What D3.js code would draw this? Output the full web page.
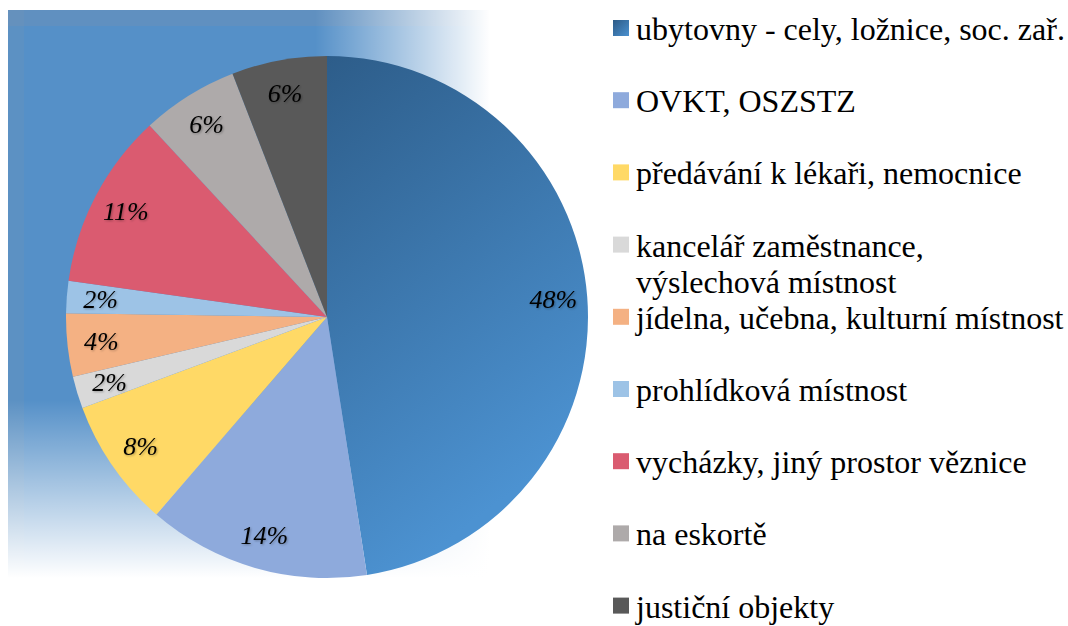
<!DOCTYPE html>
<html>
<head>
<meta charset="utf-8">
<script src="https://cdn.jsdelivr.net/npm/d3@7"></script>
</head>
<body style="margin:0">
<svg width="1068" height="626" style="display:block"></svg>
<script>
const categories = [
  'ubytovny - cely, ložnice, soc. zař.',
  'OVKT, OSZSTZ',
  'předávání k lékaři, nemocnice',
  'kancelář zaměstnance,\nvýslechová místnost',
  'jídelna, učebna, kulturní místnost',
  'prohlídková místnost',
  'vycházky, jiný prostor věznice',
  'na eskortě',
  'justiční objekty'
];
const values = [47.6, 13.8, 8.0, 2.0, 3.9, 2.0, 10.9, 6.0, 5.9];
const labels = ['48%', '14%', '8%', '2%', '4%', '2%', '11%', '6%', '6%'];
const colors = ['url(#gradMain)', '#8eaadc', '#ffd966', '#d9d9d9', '#f4b183', '#9dc3e6', '#da5b70', '#aeaaaa', '#595959'];

const svg = d3.select('svg');
const cx = 327;
const cy = 317;
const r = 261;

const defs = svg.append('defs');

// main slice gradient (coordinates relative to pie centre)
const g1 = defs.append('linearGradient')
  .attr('id', 'gradMain')
  .attr('gradientUnits', 'userSpaceOnUse')
  .attr('x1', -r * 0.1).attr('y1', -r)
  .attr('x2', r).attr('y2', r * 0.45);
g1.append('stop').attr('offset', '0%').attr('stop-color', '#2c5b87');
g1.append('stop').attr('offset', '100%').attr('stop-color', '#4c92d1');

const g2 = defs.append('linearGradient')
  .attr('id', 'gradSwatch')
  .attr('x1', 0).attr('y1', 0).attr('x2', 1).attr('y2', 1);
g2.append('stop').attr('offset', '0%').attr('stop-color', '#2c5a86');
g2.append('stop').attr('offset', '100%').attr('stop-color', '#4b91d0');

// white fades laid over the blue background block
const fx = defs.append('linearGradient').attr('id', 'fadeX')
  .attr('gradientUnits', 'userSpaceOnUse')
  .attr('x1', 315).attr('y1', 0).attr('x2', 490).attr('y2', 0);
fx.append('stop').attr('offset', '0%').attr('stop-color', '#fff').attr('stop-opacity', 0);
fx.append('stop').attr('offset', '100%').attr('stop-color', '#fff').attr('stop-opacity', 1);
const fy = defs.append('linearGradient').attr('id', 'fadeY')
  .attr('gradientUnits', 'userSpaceOnUse')
  .attr('x1', 0).attr('y1', 400).attr('x2', 0).attr('y2', 578);
fy.append('stop').attr('offset', '0%').attr('stop-color', '#fff').attr('stop-opacity', 0);
fy.append('stop').attr('offset', '100%').attr('stop-color', '#fff').attr('stop-opacity', 1);

const shadow = defs.append('filter').attr('id', 'tshadow')
  .attr('x', '-20%').attr('y', '-20%').attr('width', '140%').attr('height', '140%');
shadow.append('feDropShadow').attr('dx', 1).attr('dy', 1).attr('stdDeviation', 1)
  .attr('flood-color', '#000').attr('flood-opacity', 0.3);

// blue background block
const bg = svg.append('g');
bg.append('rect')
  .attr('x', 8).attr('y', 10)
  .attr('width', 500).attr('height', 590)
  .attr('fill', '#5590c8');
bg.append('rect')
  .attr('x', 8).attr('y', 10).attr('width', 500).attr('height', 16)
  .attr('fill', '#7593b2').attr('opacity', 0.35);
bg.append('rect')
  .attr('x', 8).attr('y', 10).attr('width', 16).attr('height', 590)
  .attr('fill', '#7593b2').attr('opacity', 0.25);
bg.append('rect')
  .attr('x', 8).attr('y', 10).attr('width', 500).attr('height', 590)
  .attr('fill', 'url(#fadeX)');
bg.append('rect')
  .attr('x', 8).attr('y', 10).attr('width', 500).attr('height', 590)
  .attr('fill', 'url(#fadeY)');

const pie = d3.pie().sort(null).value(d => d);
const arcs = pie(values);
const arc = d3.arc().innerRadius(0).outerRadius(r);
const labelArc = d3.arc().innerRadius(r * 0.87).outerRadius(r * 0.87);

const chart = svg.append('g').attr('transform', `translate(${cx},${cy})`);

chart.selectAll('path')
  .data(arcs)
  .enter()
  .append('path')
  .attr('d', arc)
  .attr('fill', (d, i) => colors[i]);

chart.selectAll('text')
  .data(arcs)
  .enter()
  .append('text')
  .attr('transform', d => `translate(${labelArc.centroid(d)})`)
  .attr('text-anchor', 'middle')
  .attr('dy', '0.33em')
  .attr('style', 'font-family: "Liberation Serif", "Times New Roman", monospace; font-style: italic; font-size: 26px')
  .attr('filter', 'url(#tshadow)')
  .text((d, i) => labels[i]);

// legend
const legend = svg.append('g');
const rowY = d3.scaleLinear().domain([0, 1]).range([40, 112.2]);

const item = legend.selectAll('g')
  .data(categories)
  .enter()
  .append('g')
  .attr('transform', (d, i) => `translate(613,${rowY(i)})`);

item.append('rect')
  .attr('x', 0).attr('y', -20)
  .attr('width', 16).attr('height', 16)
  .attr('fill', (d, i) => (i === 0 ? 'url(#gradSwatch)' : colors[i]));

item.append('text')
  .attr('x', 23)
  .attr('style', 'font-family: "Liberation Serif", "Times New Roman", monospace; font-size: 32px')
  .attr('fill', '#000')
  .selectAll('tspan')
  .data(d => d.split('\n'))
  .enter()
  .append('tspan')
  .attr('x', 23)
  .attr('dy', (d, i) => (i === 0 ? 0 : 36))
  .text(d => d);
</script>
</body>
</html>
